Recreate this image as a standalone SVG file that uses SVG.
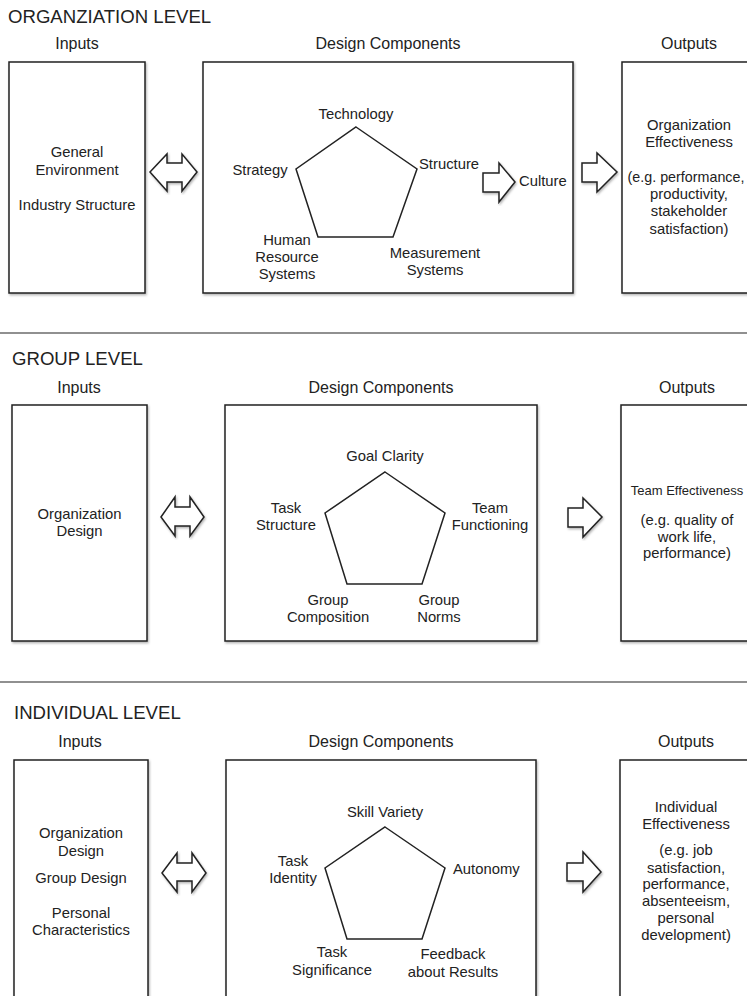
<svg xmlns="http://www.w3.org/2000/svg" width="747" height="996" viewBox="0 0 747 996">
<style>
text{font-family:"Liberation Sans",Arial,Helvetica,sans-serif;fill:#222;font-size:14.8px}
.title{font-size:18.6px}
.hdr{font-size:16px}
.m{text-anchor:middle}
.box{fill:#fff;stroke:#222;stroke-width:1.5;filter:url(#sh)}
.pent{fill:#fff;stroke:#222;stroke-width:1.5;stroke-linejoin:miter}
.arr{fill:#fff;stroke:#222;stroke-width:1.5;stroke-linejoin:miter;filter:url(#sh)}
.div{stroke:#222;stroke-width:1.2}
</style>
<defs>
<filter id="sh" x="-10%" y="-10%" width="120%" height="120%">
<feDropShadow dx="1" dy="1.5" stdDeviation="1" flood-color="#000" flood-opacity="0.3"/>
</filter>
</defs>
<rect width="747" height="996" fill="#fff"/>

<!-- Section 1 -->
<g id="org-level">
<text class="title" x="8" y="23">ORGANZIATION LEVEL</text>
<text class="hdr m" x="77" y="49">Inputs</text>
<text class="hdr m" x="388" y="49">Design Components</text>
<text class="hdr m" x="689" y="49">Outputs</text>
</g>
<g id="org-inputs">
<rect class="box" x="9" y="62" width="136" height="231"/>
<text class="m" x="77" y="157">General</text>
<text class="m" x="77" y="175">Environment</text>
<text class="m" x="77" y="210">Industry Structure</text>
</g>
<g id="org-design">
<rect class="box" x="203" y="62" width="370" height="231"/>
<polygon class="pent" points="356,127 417,169 393,237 318,237 296,169"/>
<text class="m" x="356" y="119">Technology</text>
<text class="m" x="260" y="175">Strategy</text>
<text x="419" y="169">Structure</text>
<text x="519" y="186">Culture</text>
<text class="m" x="287" y="245">Human</text>
<text class="m" x="287" y="262">Resource</text>
<text class="m" x="287" y="279">Systems</text>
<text class="m" x="435" y="258">Measurement</text>
<text class="m" x="435" y="275">Systems</text>
</g>
<g id="org-outputs">
<rect class="box" x="622" y="62" width="140" height="231"/>
<text class="m" x="689" y="130">Organization</text>
<text class="m" x="689" y="147">Effectiveness</text>
<text class="m" x="686" y="182" style="font-size:14.3px">(e.g. performance,</text>
<text class="m" x="689" y="199">productivity,</text>
<text class="m" x="689" y="216">stakeholder</text>
<text class="m" x="689" y="234">satisfaction)</text>
</g>
<line class="div" x1="0" y1="333" x2="747" y2="333"/>

<!-- Section 2 -->
<g id="group-level">
<text class="title" x="12" y="365">GROUP LEVEL</text>
<text class="hdr m" x="79" y="393">Inputs</text>
<text class="hdr m" x="381" y="393">Design Components</text>
<text class="hdr m" x="687" y="393">Outputs</text>
</g>
<g id="group-inputs">
<rect class="box" x="12" y="405" width="135" height="236"/>
<text class="m" x="79.5" y="519">Organization</text>
<text class="m" x="79.5" y="536">Design</text>
</g>
<g id="group-design">
<rect class="box" x="225" y="405" width="312" height="236"/>
<polygon class="pent" points="385,472 445,513 422,584 347,584 325,513"/>
<text class="m" x="385" y="461">Goal Clarity</text>
<text class="m" x="286" y="513">Task</text>
<text class="m" x="286" y="530">Structure</text>
<text class="m" x="490" y="513">Team</text>
<text class="m" x="490" y="530">Functioning</text>
<text class="m" x="328" y="605">Group</text>
<text class="m" x="328" y="622">Composition</text>
<text class="m" x="439" y="605">Group</text>
<text class="m" x="439" y="622">Norms</text>
</g>
<g id="group-outputs">
<rect class="box" x="621" y="405" width="140" height="236"/>
<text class="m" x="687" y="495" style="font-size:13px">Team Effectiveness</text>
<text class="m" x="687" y="525">(e.g. quality of</text>
<text class="m" x="687" y="542">work life,</text>
<text class="m" x="687" y="558">performance)</text>
</g>
<line class="div" x1="0" y1="682" x2="747" y2="682"/>

<!-- Section 3 -->
<g id="individual-level">
<text class="title" x="14" y="719">INDIVIDUAL LEVEL</text>
<text class="hdr m" x="80" y="747">Inputs</text>
<text class="hdr m" x="381" y="747">Design Components</text>
<text class="hdr m" x="686" y="747">Outputs</text>
</g>
<g id="individual-inputs">
<rect class="box" x="14" y="760" width="134" height="250"/>
<text class="m" x="81" y="838">Organization</text>
<text class="m" x="81" y="856">Design</text>
<text class="m" x="81" y="883">Group Design</text>
<text class="m" x="81" y="918">Personal</text>
<text class="m" x="81" y="935">Characteristics</text>
</g>
<g id="individual-design">
<rect class="box" x="226" y="760" width="310" height="250"/>
<polygon class="pent" points="385,827 445,868 422,939 347,939 325,868"/>
<text class="m" x="385" y="817">Skill Variety</text>
<text class="m" x="293" y="866">Task</text>
<text class="m" x="293" y="883">Identity</text>
<text x="453" y="874">Autonomy</text>
<text class="m" x="332" y="957">Task</text>
<text class="m" x="332" y="975">Significance</text>
<text class="m" x="453" y="959">Feedback</text>
<text class="m" x="453" y="977">about Results</text>
</g>
<g id="individual-outputs">
<rect class="box" x="620" y="760" width="140" height="250"/>
<text class="m" x="686" y="812">Individual</text>
<text class="m" x="686" y="829">Effectiveness</text>
<text class="m" x="686" y="855">(e.g. job</text>
<text class="m" x="686" y="873">satisfaction,</text>
<text class="m" x="686" y="889">performance,</text>
<text class="m" x="686" y="906">absenteeism,</text>
<text class="m" x="686" y="923">personal</text>
<text class="m" x="686" y="940">development)</text>
</g>

<g id="connectors">
<polygon class="arr" points="150,172 167,154 167,163 182,163 182,154 197,172 182,191 182,182 167,182 167,191"/>
<polygon class="arr" points="483,173 499,173 499,163 515,182 499,202 499,192 483,192"/>
<polygon class="arr" points="582,163 597,163 597,153 617,172 597,192 597,182 582,182"/>
<polygon class="arr" points="161,517 175,497 175,507 190,507 190,497 204,517 190,536 190,526 175,526 175,536"/>
<polygon class="arr" points="568,508 583,508 583,498 602,517 583,537 583,527 568,527"/>
<polygon class="arr" points="162,873 177,853 177,863 192,863 192,853 206,873 192,892 192,881 177,881 177,892"/>
<polygon class="arr" points="567,863 583,863 583,852 601,872 583,892 583,881 567,881"/>
</g>
</svg>
